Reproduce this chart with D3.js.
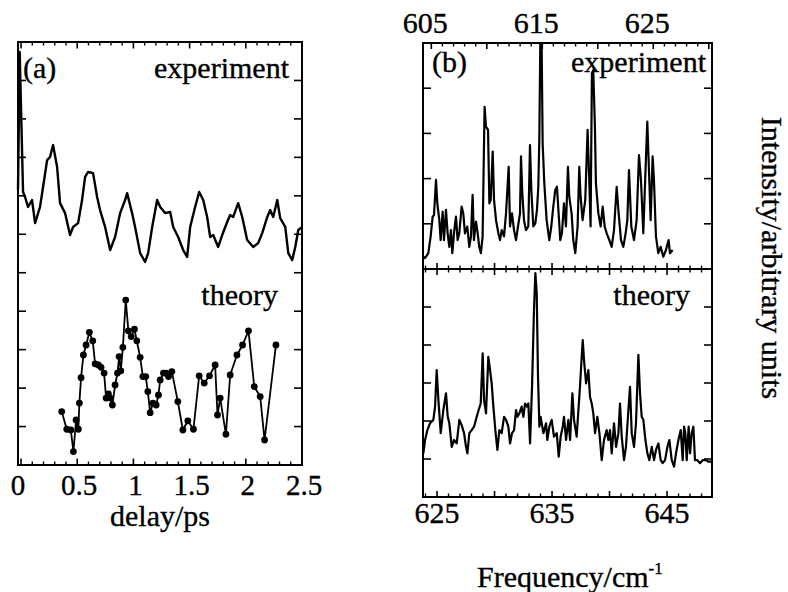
<!DOCTYPE html>
<html>
<head>
<meta charset="utf-8">
<script src="https://cdn.jsdelivr.net/npm/d3@7"></script>
<style>
  html, body { margin: 0; padding: 0; background: #fff; }
  #chart text { font-family: "Liberation Serif", serif; }
</style>
</head>
<body>
<svg id="chart" width="788" height="592"></svg>
<script>
// ---- (a) time domain: pump-probe signal vs delay (ps), arbitrary intensity ----
const delayExperiment = [
  [-0.027, 7.15], [-0.012, 10.74], [0.018, 7.1], [0.036, 6.97], [0.062, 6.71], [0.098, 6.89],
  [0.125, 6.29], [0.169, 6.71], [0.196, 7.23], [0.232, 7.93], [0.258, 8.01], [0.285, 8.32],
  [0.321, 7.75], [0.347, 6.81], [0.392, 6.55], [0.436, 5.98], [0.463, 6.19], [0.508, 6.29],
  [0.543, 6.89], [0.570, 7.49], [0.597, 7.62], [0.641, 7.59], [0.677, 6.97], [0.703, 6.63],
  [0.748, 6.19], [0.793, 5.59], [0.837, 5.93], [0.882, 6.55], [0.926, 6.89], [0.944, 7.07],
  [0.988, 6.55], [1.015, 6.19], [1.060, 5.51], [1.104, 5.28], [1.131, 5.51], [1.167, 6.19],
  [1.211, 6.89], [1.238, 6.71], [1.282, 6.55], [1.327, 6.58], [1.354, 6.19], [1.398, 5.93],
  [1.443, 5.59], [1.478, 5.41], [1.505, 6.19], [1.549, 6.71], [1.585, 7.10], [1.621, 6.89],
  [1.656, 6.45], [1.683, 5.93], [1.710, 5.98], [1.754, 5.67], [1.790, 5.98], [1.834, 6.32],
  [1.861, 6.50], [1.888, 6.45], [1.932, 6.81], [1.968, 6.45], [2.012, 5.85], [2.066, 5.67],
  [2.110, 5.77], [2.146, 6.03], [2.191, 6.45], [2.217, 6.63], [2.244, 6.45], [2.280, 6.89],
  [2.306, 6.42], [2.351, 6.19], [2.378, 5.51], [2.413, 5.33], [2.440, 5.67], [2.467, 6.11],
  [2.502, 6.19]
];

const delayTheory = [
  [0.362, 1.39], [0.407, 0.93], [0.443, 0.91], [0.466, 0.35], [0.490, 1.17], [0.510, 0.93],
  [0.519, 1.61], [0.534, 2.27], [0.555, 2.86], [0.579, 3.12], [0.608, 3.45], [0.638, 3.23],
  [0.659, 2.63], [0.688, 2.60], [0.712, 2.54], [0.739, 2.39], [0.757, 1.74], [0.777, 1.85],
  [0.793, 1.74], [0.813, 1.56], [0.837, 2.08], [0.858, 2.39], [0.873, 2.82], [0.888, 2.45],
  [0.906, 3.06], [0.932, 4.29], [0.955, 3.49], [0.980, 3.34], [1.009, 3.53], [1.030, 3.23],
  [1.060, 2.80], [1.084, 2.30], [1.110, 2.30], [1.128, 1.91], [1.149, 1.36], [1.173, 1.61],
  [1.202, 1.56], [1.223, 1.82], [1.238, 2.21], [1.267, 2.39], [1.291, 2.39], [1.312, 2.30],
  [1.342, 2.43], [1.395, 1.65], [1.440, 0.91], [1.484, 1.15], [1.534, 0.93], [1.585, 2.32],
  [1.630, 2.13], [1.677, 2.32], [1.727, 2.60], [1.748, 1.30], [1.772, 1.74], [1.823, 0.80],
  [1.861, 2.34], [1.921, 2.86], [1.971, 3.12], [2.024, 3.49], [2.075, 2.04], [2.128, 1.78],
  [2.167, 0.65], [2.268, 3.12]
];

const delayTicks = [0, 0.5, 1, 1.5, 2, 2.5];
const delayTickLabels = ["0", "0.5", "1", "1.5", "2", "2.5"];

// ---- (b) frequency domain: spectra vs wavenumber (cm^-1) ----
const spectrumExperiment = [
  [604.28, 0.27], [604.43, 0.24], [604.73, 0.35], [604.94, 0.72], [605.12, 1.16], [605.24, 1.19],
  [605.42, 1.97], [605.54, 1.45], [605.72, 1.08], [605.84, 0.64], [606.02, 1.27], [606.14, 0.64],
  [606.32, 1.31], [606.47, 0.79], [606.62, 0.49], [606.77, 0.86], [606.89, 0.35], [607.07, 0.86],
  [607.22, 1.16], [607.37, 0.64], [607.52, 0.79], [607.73, 1.38], [607.88, 1.23], [608.03, 0.79],
  [608.24, 0.94], [608.42, 0.49], [608.57, 0.72], [608.72, 1.64], [608.84, 0.64], [609.02, 1.05],
  [609.14, 0.86], [609.32, 0.49], [609.47, 0.35], [609.62, 0.72], [609.80, 3.59], [609.92, 3.15],
  [610.11, 3.08], [610.23, 1.45], [610.35, 1.53], [610.53, 2.60], [610.65, 1.53], [610.83, 1.08],
  [611.04, 0.79], [611.19, 0.64], [611.34, 0.86], [611.55, 0.72], [611.73, 1.23], [611.97, 2.26],
  [612.09, 0.94], [612.27, 1.23], [612.45, 0.86], [612.63, 0.64], [612.81, 0.94], [612.99, 1.23],
  [613.08, 2.49], [613.20, 1.67], [613.35, 1.08], [613.53, 0.86], [613.74, 0.94], [613.89, 2.74],
  [614.01, 1.75], [614.19, 0.94], [614.37, 1.01], [614.52, 1.31], [614.64, 1.82], [614.73, 2.85],
  [614.82, 5.0], [614.94, 5.0], [615.03, 2.78], [615.18, 1.90], [615.39, 1.08], [615.63, 0.64],
  [615.81, 0.94], [615.99, 1.38], [616.17, 1.75], [616.32, 1.82], [616.47, 1.23], [616.62, 0.64],
  [616.77, 0.79], [616.95, 1.45], [617.13, 0.94], [617.31, 2.26], [617.43, 1.60], [617.64, 1.23],
  [617.79, 0.64], [617.97, 0.35], [618.18, 0.94], [618.33, 2.26], [618.45, 1.60], [618.63, 1.08],
  [618.87, 1.53], [619.08, 3.08], [619.23, 1.97], [619.35, 0.94], [619.47, 4.33], [619.59, 4.40],
  [619.74, 3.15], [619.83, 1.90], [620.05, 1.23], [620.26, 0.94], [620.44, 1.38], [620.62, 0.94],
  [620.80, 0.79], [621.04, 0.64], [621.25, 0.49], [621.46, 0.86], [621.70, 1.82], [621.88, 1.23],
  [622.09, 0.64], [622.30, 0.49], [622.51, 0.79], [622.66, 1.08], [622.81, 2.19], [623.02, 0.94],
  [623.26, 0.64], [623.50, 1.08], [623.71, 2.52], [623.89, 1.97], [624.10, 0.79], [624.31, 2.26],
  [624.46, 3.26], [624.64, 1.97], [624.76, 1.08], [624.94, 2.49], [625.06, 1.97], [625.24, 0.72],
  [625.45, 0.35], [625.66, 0.49], [625.90, 0.27], [626.14, 0.42], [626.38, 0.64], [626.50, 0.35],
  [626.74, 0.42]
];

const spectrumTheory = [
  [623.81, 1.15], [623.96, 1.50], [624.16, 1.76], [624.39, 1.94], [624.68, 2.03], [624.83, 2.38],
  [624.97, 3.34], [625.12, 2.55], [625.32, 1.68], [625.55, 2.29], [625.78, 2.73], [625.93, 2.11],
  [626.07, 1.94], [626.28, 1.32], [626.48, 1.50], [626.71, 1.41], [626.94, 2.03], [627.14, 1.89],
  [627.35, 1.68], [627.52, 1.32], [627.64, 1.15], [627.81, 1.68], [628.01, 1.76], [628.22, 1.85],
  [628.45, 2.11], [628.62, 2.29], [628.80, 2.46], [628.97, 3.78], [629.09, 2.55], [629.26, 2.20],
  [629.46, 3.69], [629.61, 3.34], [629.75, 2.99], [629.90, 2.38], [630.07, 1.76], [630.25, 1.24],
  [630.42, 1.76], [630.62, 1.68], [630.83, 2.11], [631.00, 2.03], [631.20, 1.85], [631.35, 1.41],
  [631.52, 1.68], [631.70, 1.76], [631.87, 2.29], [631.99, 2.11], [632.16, 2.20], [632.36, 2.38],
  [632.51, 2.11], [632.65, 2.46], [632.80, 2.38], [632.94, 2.46], [633.09, 1.41], [633.26, 2.90],
  [633.43, 4.92], [633.55, 5.89], [633.67, 5.36], [633.78, 3.17], [633.90, 1.85], [634.01, 2.11],
  [634.25, 1.68], [634.48, 1.94], [634.59, 1.50], [634.77, 1.85], [634.97, 2.03], [635.17, 1.59],
  [635.41, 1.68], [635.58, 1.06], [635.75, 1.59], [635.93, 1.85], [636.04, 2.11], [636.22, 1.50],
  [636.42, 2.03], [636.57, 1.50], [636.77, 2.73], [636.91, 2.03], [637.14, 1.59], [637.43, 2.90],
  [637.58, 3.69], [637.67, 4.13], [637.78, 3.61], [637.96, 2.99], [638.16, 3.34], [638.30, 2.64],
  [638.45, 2.46], [638.59, 2.20], [638.74, 1.68], [638.94, 2.11], [639.12, 1.68], [639.32, 0.97],
  [639.52, 1.50], [639.75, 1.76], [639.90, 1.50], [640.04, 1.76], [640.19, 1.15], [640.39, 1.94],
  [640.57, 1.32], [640.77, 1.68], [640.91, 2.46], [641.06, 1.59], [641.26, 0.97], [641.43, 1.32],
  [641.64, 2.29], [641.78, 2.90], [641.93, 1.68], [642.13, 1.32], [642.30, 1.94], [642.51, 3.74],
  [642.65, 2.73], [642.80, 2.11], [642.94, 2.03], [643.12, 1.50], [643.29, 1.15], [643.46, 0.97],
  [643.67, 1.32], [643.87, 0.97], [644.04, 1.24], [644.25, 1.41], [644.45, 0.97], [644.62, 0.89],
  [644.83, 0.97], [645.03, 1.32], [645.20, 1.50], [645.41, 0.97], [645.61, 0.80], [645.78, 1.15],
  [645.99, 1.50], [646.19, 1.76], [646.36, 0.97], [646.48, 1.85], [646.59, 1.68], [646.71, 0.97],
  [646.88, 1.85], [647.00, 1.15], [647.14, 1.68], [647.29, 1.85], [647.43, 0.97], [647.64, 0.97],
  [647.87, 0.89], [648.10, 0.97], [648.39, 0.97], [648.59, 0.93], [648.88, 0.93]
];

const freqTopTicks = [605, 615, 625];
const freqBottomTicks = [625, 635, 645];

const svg = d3.select("#chart");

// ---- scales ----
const xA = d3.scaleLinear().domain([-0.027, 2.5]).range([18, 302]);
const yA = d3.scaleLinear().domain([0, 11]).range([465, 42]);

const xBTop = d3.scaleLinear().domain([604.25, 630.29]).range([423, 712]);
const xBBot = d3.scaleLinear().domain([623.78, 648.91]).range([423, 712]);
const yBTop = d3.scaleLinear().domain([0, 5]).range([269, 43]);
const yBBot = d3.scaleLinear().domain([0, 6]).range([497, 269]);

const ink = "#000";

function frame(x0, x1, y0, y1) {
  svg.append("rect")
    .attr("x", x0).attr("y", y0)
    .attr("width", x1 - x0).attr("height", y1 - y0)
    .attr("fill", "none").attr("stroke", ink).attr("stroke-width", 2);
}

// inward ticks along a horizontal edge; dir = +1 downward, -1 upward
function hTicks(scale, values, y, dir, len, width) {
  svg.append("g").selectAll("line").data(values).join("line")
    .attr("x1", d => scale(d)).attr("x2", d => scale(d))
    .attr("y1", y).attr("y2", y + dir * len)
    .attr("stroke", ink).attr("stroke-width", width);
}
// inward ticks along a vertical edge; dir = +1 rightward, -1 leftward
function vTicks(scale, values, x, dir, len) {
  svg.append("g").selectAll("line").data(values).join("line")
    .attr("y1", d => scale(d)).attr("y2", d => scale(d))
    .attr("x1", x).attr("x2", x + dir * len)
    .attr("stroke", ink).attr("stroke-width", 1.6);
}

// serif label placed with a transform; rotation optional
function serifText(x, y, content, size, anchor, rotate) {
  return svg.append("text")
    .attr("transform", `translate(${x},${y})` + (rotate ? ` rotate(${rotate})` : ""))
    .attr("text-anchor", anchor || "middle")
    .style("font-family", "Liberation Serif")
    .style("font-size", size + "px")
    .style("fill", ink)
    .style("stroke", ink)
    .style("stroke-width", "0.35px")
    .text(content);
}

// ================= panel (a) =================
frame(xA.range()[0], xA.range()[1], yA.range()[1], yA.range()[0]);

const minorA = d3.range(0, 25.01, 1).map(i => i / 10).filter(d => Math.round(d * 10) % 5 !== 0);
hTicks(xA, minorA, yA.range()[1], 1, 3.5, 1.4);
hTicks(xA, delayTicks.slice(0, 5), yA.range()[1], 1, 6.5, 1.6);
hTicks(xA, minorA, yA.range()[0], -1, 3.5, 1.4);
hTicks(xA, delayTicks.slice(0, 5), yA.range()[0], -1, 6.5, 1.6);

const ticksA = d3.range(1, 11);
vTicks(yA, ticksA, xA.range()[0], 1, 8);
vTicks(yA, ticksA, xA.range()[1], -1, 8);

const lineA = d3.line().x(d => xA(d[0])).y(d => yA(d[1]));

svg.append("path").datum(delayExperiment)
  .attr("d", lineA).attr("fill", "none")
  .attr("stroke", ink).attr("stroke-width", 2.4)
  .attr("stroke-linejoin", "round");

svg.append("path").datum(delayTheory)
  .attr("d", lineA).attr("fill", "none")
  .attr("stroke", ink).attr("stroke-width", 1.8)
  .attr("stroke-linejoin", "round");

svg.append("g").selectAll("circle").data(delayTheory).join("circle")
  .attr("cx", d => xA(d[0])).attr("cy", d => yA(d[1]))
  .attr("r", 3.4).attr("fill", ink);

delayTicks.forEach((d, i) => serifText(xA(d) + (i === 0 ? -3 : 2), 495, delayTickLabels[i], 29));
serifText(160, 526, "delay/ps", 30);

serifText(23, 78, "(a)", 30, "start");
serifText(289, 78, "experiment", 30, "end");
serifText(278, 305, "theory", 30, "end");

// ================= panel (b) =================
const bx0 = 423, bx1 = 712;
svg.append("clipPath").attr("id", "clipB")
  .append("rect").attr("x", bx0).attr("y", 43).attr("width", bx1 - bx0).attr("height", 454);

const minorTop = d3.range(605, 631, 1);
hTicks(xBTop, minorTop.filter(d => d % 5 !== 0), 43, 1, 3.5, 1.4);
hTicks(xBTop, minorTop.filter(d => d % 5 === 0), 43, 1, 6, 1.6);

const minorBot = d3.range(624, 649, 1);
hTicks(xBBot, minorBot.filter(d => d % 5 !== 0), 269, -1, 3.5, 1.4);
hTicks(xBBot, minorBot.filter(d => d % 5 === 0), 269, -1, 6, 1.6);
hTicks(xBBot, minorBot.filter(d => d % 5 !== 0), 269, 1, 3.5, 1.4);
hTicks(xBBot, minorBot.filter(d => d % 5 === 0), 269, 1, 6, 1.6);
hTicks(xBBot, minorBot.filter(d => d % 5 !== 0), 497, -1, 3.5, 1.4);
hTicks(xBBot, minorBot.filter(d => d % 5 === 0), 497, -1, 6, 1.6);

vTicks(yBTop, d3.range(1, 5), bx0, 1, 8);
vTicks(yBTop, d3.range(1, 5), bx1, -1, 8);
vTicks(yBBot, d3.range(1, 6), bx0, 1, 8);
vTicks(yBBot, d3.range(1, 6), bx1, -1, 8);

svg.append("path").datum(spectrumExperiment)
  .attr("clip-path", "url(#clipB)")
  .attr("d", d3.line().x(d => xBTop(d[0])).y(d => yBTop(d[1])))
  .attr("fill", "none").attr("stroke", ink).attr("stroke-width", 2.2)
  .attr("stroke-linejoin", "round");

svg.append("path").datum(spectrumTheory)
  .attr("clip-path", "url(#clipB)")
  .attr("d", d3.line().x(d => xBBot(d[0])).y(d => yBBot(d[1])))
  .attr("fill", "none").attr("stroke", ink).attr("stroke-width", 2.2)
  .attr("stroke-linejoin", "round");

// frame and divider drawn over the traces
frame(bx0, bx1, 43, 497);
svg.append("line").attr("x1", bx0).attr("x2", bx1).attr("y1", 269).attr("y2", 269)
  .attr("stroke", ink).attr("stroke-width", 2);

freqTopTicks.forEach(d => serifText(xBTop(d) - 6, 33, String(d), 30));
freqBottomTicks.forEach(d => serifText(xBBot(d), 523, String(d), 30));

serifText(432, 72, "(b)", 30, "start");
serifText(706, 72, "experiment", 30, "end");
serifText(690, 305, "theory", 30, "end");

const fl = serifText(477, 587, "Frequency/cm", 30, "start");
fl.append("tspan").style("font-size", "17px").attr("dy", -13).text("-1");

serifText(762, 258, "Intensity/arbitrary units", 30, "middle", 90);
</script>
</body>
</html>
